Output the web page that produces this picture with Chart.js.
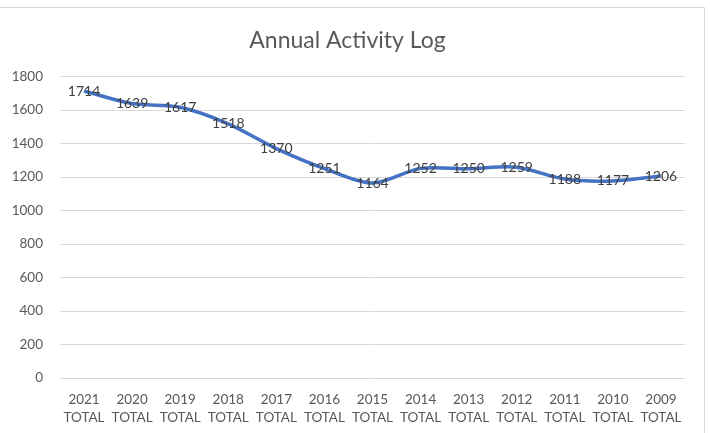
<!DOCTYPE html>
<html>
<head>
<meta charset="utf-8">
<script src="https://cdn.jsdelivr.net/npm/chart.js@4.4.1/dist/chart.umd.min.js"></script>
<style>
  body { margin: 0; background: #fff; }
  #wrap { position: relative; width: 710px; height: 433px; }
  #frame {
    position: absolute; left: 0; top: 7px; width: 705px; height: 426px;
    border-top: 1px solid #d9d9d9; border-right: 1px solid #d9d9d9;
    box-sizing: border-box; pointer-events: none;
  }
</style>
</head>
<body>
<div id="wrap">
  <canvas id="activity_chart" width="710" height="433"></canvas>
  <div id="frame"></div>
</div>
<script>
const years = ["2021", "2020", "2019", "2018", "2017", "2016", "2015", "2014", "2013", "2012", "2011", "2010", "2009"];
const totals = [1714, 1639, 1617, 1518, 1370, 1251, 1164, 1252, 1250, 1259, 1188, 1177, 1206];
const yTicks = [0, 200, 400, 600, 800, 1000, 1200, 1400, 1600, 1800];

const labels = years.map(y => [y, "TOTAL"]);

// values drawn centred on each point, like Excel's "center" label position
const pointLabels = {
  id: "pointLabels",
  afterDatasetsDraw(chart) {
    const ctx = chart.ctx;
    const meta = chart.getDatasetMeta(0);
    ctx.save();
    ctx.font = "14px Lato";
    ctx.fillStyle = "#404040";
    ctx.textAlign = "center";
    ctx.textBaseline = "middle";
    meta.data.forEach((pt, i) => {
      ctx.fillText(String(chart.data.datasets[0].data[i]), pt.x, pt.y);
    });
    ctx.restore();
  }
};

const config = {
  type: "line",
  data: {
    labels: labels,
    datasets: [
      {
        data: totals,
        borderColor: "#4472C4",
        borderWidth: 3.5,
        pointRadius: 0,
        tension: 0.3,
        fill: false,
      },
    ],
  },
  options: {
    responsive: false,
    devicePixelRatio: 1,
    animation: false,
    layout: { padding: { left: 10, right: 25, top: 0, bottom: 2 } },
    plugins: {
      legend: { display: false },
      tooltip: { enabled: false },
      title: {
        display: true,
        text: "Annual Activity Log",
        color: "#595959",
        font: { family: "Lato", size: 23, weight: "normal" },
        padding: { top: 27, bottom: 22 },
      },
    },
    scales: {
      x: {
        offset: true,
        grid: { display: false },
        border: { display: false },
        ticks: {
          color: "#595959",
          font: { family: "Lato", size: 13.5, lineHeight: 1.37 },
          padding: 4,
          maxRotation: 0,
          autoSkip: false,
        },
      },
      y: {
        min: 0,
        max: 1800,
        afterBuildTicks: (axis) => { axis.ticks = yTicks.map(v => ({ value: v })); },
        afterFit: (axis) => { axis.width = 50; },
        grid: { color: "#d9d9d9", lineWidth: 1, drawTicks: false },
        border: { display: false },
        ticks: {
          color: "#595959",
          font: { family: "Lato", size: 13.5 },
          padding: 17,
          callback: (v) => String(v),
        },
      },
    },
  },
  plugins: [pointLabels],
};

new Chart(document.getElementById("activity_chart"), config);
</script>
</body>
</html>
